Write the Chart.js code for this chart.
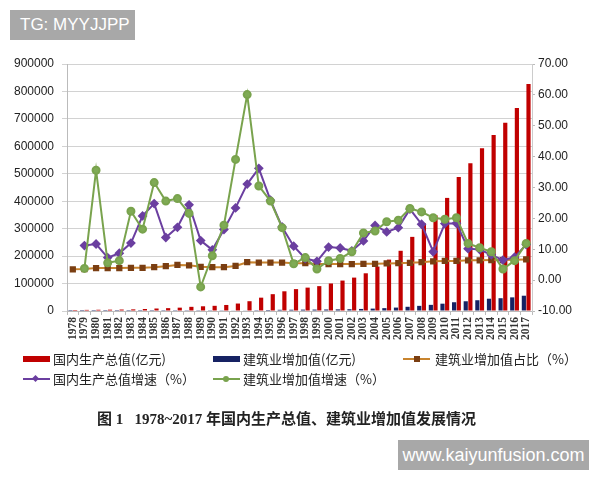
<!DOCTYPE html>
<html>
<head>
<meta charset="utf-8">
<script src="https://cdn.jsdelivr.net/npm/chart.js@4"></script>
<style>
  body { margin: 0; background: #fff; }
  #wrap { position: relative; width: 600px; height: 480px; overflow: hidden; }
  #chart { position: absolute; left: 0; top: 0; }
  .lg { position: absolute; font-family: "Noto Sans CJK SC", sans-serif; font-size: 13px; color: #222; line-height: 16px; white-space: nowrap; }
  .box { position: absolute; height: 6px; width: 27px; }
  .ln { position: absolute; height: 2px; width: 27px; }
  .mk { position: absolute; }
  .wm { position: absolute; background: #a8a8a8; color: #fff; font-family: "Liberation Sans", Arial, sans-serif; }
  #title { position: absolute; left: 97px; top: 407px; font-family: "Liberation Serif", "Noto Sans CJK SC", serif; font-weight: bold; font-size: 15px; color: #222; white-space: nowrap; }
</style>
</head>
<body>
<div id="wrap">
  <canvas id="chart" width="600" height="480"></canvas>

  <!-- legend row 1 -->
  <div class="box" style="left:23px;top:356px;background:#c00000"></div>
  <div class="lg" style="left:53px;top:351px">国内生产总值(亿元)</div>
  <div class="box" style="left:213px;top:356px;background:#162263"></div>
  <div class="lg" style="left:243px;top:351px">建筑业增加值(亿元)</div>
  <div class="ln" style="left:403px;top:358px;background:#c8842e"></div>
  <div class="mk" style="left:414px;top:356px;width:6px;height:6px;background:#7a3e12"></div>
  <div class="lg" style="left:435px;top:351px">建筑业增加值占比（%）</div>
  <!-- legend row 2 -->
  <div class="ln" style="left:23px;top:378px;background:#6b3fa0"></div>
  <div class="mk" style="left:33px;top:376px;width:5px;height:5px;background:#6b3fa0;transform:rotate(45deg)"></div>
  <div class="lg" style="left:53px;top:371px">国内生产总值增速（%）</div>
  <div class="ln" style="left:213px;top:378px;background:#79a34d"></div>
  <div class="mk" style="left:223px;top:376px;width:6px;height:6px;border-radius:3px;background:#79a34d"></div>
  <div class="lg" style="left:243px;top:371px">建筑业增加值增速（%）</div>

  <div id="title">图 1&nbsp;&nbsp;&nbsp;1978~2017 年国内生产总值、建筑业增加值发展情况</div>

  <div class="wm" style="left:10px;top:10px;width:125px;height:30px;font-size:17px;line-height:30px;text-indent:10px">TG: MYYJJPP</div>
  <div class="wm" style="left:398px;top:440px;width:191px;height:30px;font-size:18px;line-height:30px;text-align:center">www.kaiyunfusion.com</div>
</div>

<script>
const years = [];
for (var y = 1978; y <= 2017; y++) years.push(String(y));

// 国内生产总值 (亿元)
const gdp = [3700, 4100, 4600, 4900, 5400, 6000, 7300, 9100, 10400, 12200,
  15200, 17200, 18900, 22000, 27200, 35700, 48600, 61300, 71800, 79700,
  85200, 90600, 100300, 110900, 121700, 137400, 161800, 187300, 219400, 270100,
  319200, 348500, 412100, 487900, 538600, 593000, 641300, 686000, 740100, 827100];

// 建筑业增加值 (亿元)
const construction = [140, 140, 200, 220, 240, 280, 320, 420, 530, 670,
  810, 800, 860, 1020, 1420, 2270, 2970, 3730, 4390, 4620,
  4990, 5180, 5520, 5930, 6470, 7490, 8720, 10400, 12450, 15350,
  18740, 22400, 26660, 31940, 35490, 39230, 44790, 46630, 49700, 55690];

// 建筑业增加值占比 (%)
const share = [3.5, 3.6, 3.9, 3.9, 3.9, 4.0, 4.0, 4.2, 4.5, 4.9,
  4.8, 4.3, 4.2, 4.2, 4.6, 5.8, 5.7, 5.7, 5.7, 5.5,
  5.5, 5.2, 5.2, 5.2, 5.2, 5.3, 5.3, 5.4, 5.5, 5.6,
  5.8, 6.1, 6.2, 6.2, 6.4, 6.4, 6.5, 6.5, 6.6, 6.7];

// 国内生产总值增速 (%)
const gdpGrowth = [null, 11.2, 11.7, 7.3, 8.7, 12.0, 20.8, 24.8, 13.8, 17.1,
  24.4, 12.8, 9.8, 16.4, 23.4, 31.1, 36.2, 25.9, 17.2, 11.0,
  7.0, 6.1, 10.7, 10.4, 9.5, 12.7, 17.7, 15.6, 17.0, 23.0,
  18.1, 9.2, 18.3, 18.4, 10.2, 9.9, 8.2, 6.5, 7.4, 11.5];

// 建筑业增加值增速 (%)
const conGrowth = [null, 3.8, 35.6, 5.6, 6.3, 22.3, 16.5, 31.6, 25.6, 26.4,
  21.6, -2.2, 7.9, 17.8, 39.1, 60.1, 30.5, 25.6, 17.0, 5.3,
  7.3, 3.6, 6.3, 7.0, 9.2, 15.3, 15.9, 18.9, 19.4, 23.2,
  22.1, 20.2, 19.7, 20.2, 11.9, 10.5, 9.2, 3.6, 6.3, 11.9];

const tickFont = { family: 'Liberation Sans, Arial, sans-serif', size: 12 };

const data = {
  labels: years,
  datasets: [
    {
      type: 'bar',
      label: '国内生产总值(亿元)',
      data: gdp,
      backgroundColor: '#c00000',
      yAxisID: 'y',
      categoryPercentage: 0.8,
      barPercentage: 0.9,
      order: 5,
    },
    {
      type: 'bar',
      label: '建筑业增加值(亿元)',
      data: construction,
      backgroundColor: '#162263',
      yAxisID: 'y',
      categoryPercentage: 0.8,
      barPercentage: 0.9,
      order: 4,
    },
    {
      type: 'line',
      label: '建筑业增加值占比（%）',
      data: share,
      borderColor: '#c8842e',
      borderWidth: 2,
      pointStyle: 'rect',
      pointRadius: 3,
      pointBackgroundColor: '#7a3e12',
      pointBorderColor: '#7a3e12',
      yAxisID: 'y1',
      order: 3,
    },
    {
      type: 'line',
      label: '国内生产总值增速（%）',
      data: gdpGrowth,
      borderColor: '#6b3fa0',
      borderWidth: 2,
      pointStyle: 'rectRot',
      pointRadius: 3.5,
      pointBackgroundColor: '#6b3fa0',
      pointBorderColor: '#6b3fa0',
      yAxisID: 'y1',
      order: 2,
    },
    {
      type: 'line',
      label: '建筑业增加值增速（%）',
      data: conGrowth,
      borderColor: '#79a34d',
      borderWidth: 2,
      pointStyle: 'circle',
      pointRadius: 3.5,
      pointBackgroundColor: '#7fab55',
      pointBorderColor: '#79a34d',
      yAxisID: 'y1',
      order: 1,
    },
  ],
};

const config = {
  type: 'bar',
  data: data,
  options: {
    responsive: false,
    animation: false,
    layout: { padding: { top: 64, left: 0, right: 0, bottom: 0 } },
    plugins: {
      legend: { display: false },
      tooltip: { enabled: false },
    },
    scales: {
      x: {
        offset: true,
        grid: { display: true, drawOnChartArea: false, tickLength: 4, color: '#bbb', offset: true },
        border: { color: '#bbb' },
        ticks: {
          autoSkip: false,
          maxRotation: 90,
          minRotation: 90,
          padding: 2,
          color: '#333',
          font: { family: 'Liberation Serif, serif', size: 11.5, weight: 'bold' },
        },
        afterFit: function (scale) { scale.height = 169; },
      },
      y: {
        position: 'left',
        min: 0,
        max: 900000,
        ticks: {
          stepSize: 100000,
          color: '#222',
          padding: 8,
          font: tickFont,
          callback: function (v) { return String(v); },
        },
        grid: { color: '#d2d2d2', tickLength: 5 },
        border: { color: '#bbb' },
        afterFit: function (scale) { scale.width = 67; },
      },
      y1: {
        position: 'right',
        min: -10,
        max: 70,
        ticks: {
          stepSize: 10,
          color: '#222',
          padding: 3,
          font: tickFont,
          callback: function (v) { return Number(v).toFixed(2); },
        },
        grid: { drawOnChartArea: false, tickLength: 3, color: '#bbb' },
        border: { color: '#ccc' },
        afterFit: function (scale) { scale.width = 68; },
      },
    },
  },
};

var chart = new Chart(document.getElementById('chart'), config);
</script>
</body>
</html>
